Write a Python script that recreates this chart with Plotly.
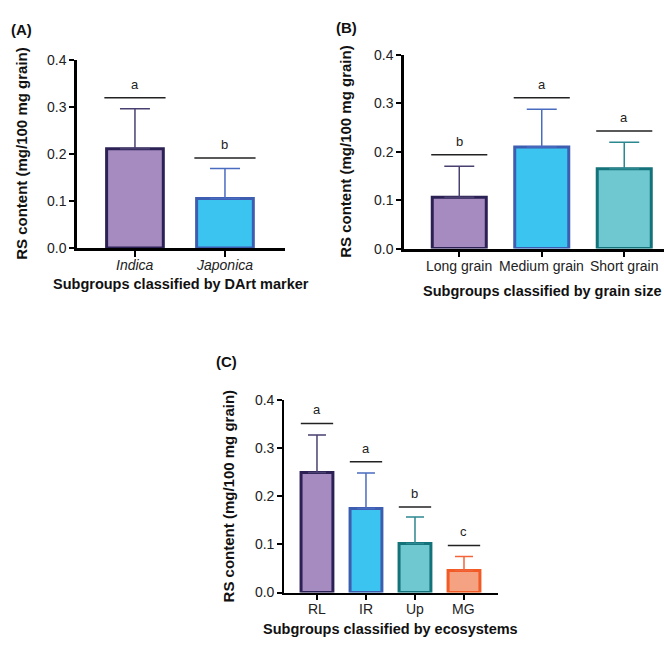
import plotly.graph_objects as go

# ---------------- data ----------------
cats_a = ["Indica", "Japonica"]
mean_a = [0.211, 0.105]
sd_a = [0.085, 0.064]
sig_a = [0.319, 0.191]
let_a = ["a", "b"]

cats_b = ["Long grain", "Medium grain", "Short grain"]
mean_b = [0.106, 0.210, 0.165]
sd_b = [0.064, 0.078, 0.055]
sig_b = [0.194, 0.312, 0.243]
let_b = ["b", "a", "a"]

cats_c = ["RL", "IR", "Up", "MG"]
mean_c = [0.250, 0.175, 0.102, 0.046]
sd_c = [0.078, 0.074, 0.055, 0.029]
sig_c = [0.352, 0.272, 0.178, 0.098]
let_c = ["a", "a", "b", "c"]

y_ticks = [0.0, 0.1, 0.2, 0.3, 0.4]

# ---------------- styles ----------------
FILL = ["#A68BC0", "#3CC4F0", "#6FC8CF", "#F5A283"]
EDGE = ["#2B2155", "#3C5DB0", "#13727A", "#F25A26"]
ERR = ["#4A4070", "#4A6CC0", "#2C8890", "#F2643A"]
FONT = "Arial, Liberation Sans, Helvetica, sans-serif"
W, H = 664, 648


def px(x):
    return x / W


def py(y):
    return 1 - y / H


fig = go.Figure()

panels = [
    dict(cats=cats_a, mean=mean_a, sd=sd_a, sig=sig_a, let=let_a, ax="", italic=True,
         xdom=[px(77), px(285)], ydom=[py(246), py(53)], xr=[-0.644, 1.667], bw=0.63,
         cols=[0, 1], lw=2.5, tlen=5, capw=15, sigh=0.34, tl_y=263,
         xtitle="Subgroups classified by DArt marker", xt=(181, 283),
         ytitle_x=22, label="(A)", lab=(21, 22)),
    dict(cats=cats_b, mean=mean_b, sd=sd_b, sig=sig_b, let=let_b, ax="2", italic=False,
         xdom=[px(404), 1.0], ydom=[py(246.7), py(48.3)], xr=[-0.670, 2.482], bw=0.655,
         cols=[0, 1, 2], lw=2.5, tlen=5, capw=15, sigh=0.34, tl_y=265,
         xtitle="Subgroups classified by grain size", xt=(542, 290),
         ytitle_x=346, label="(B)", lab=(347, 20)),
    dict(cats=cats_c, mean=mean_c, sd=sd_c, sig=sig_c, let=let_c, ax="3", italic=False,
         xdom=[px(284), px(498)], ydom=[py(599.3), py(402.3)], xr=[-0.673, 3.694], bw=0.65,
         cols=[0, 1, 2, 3], lw=1.6, tlen=5, capw=9, sigh=0.33, tl_y=616,
         xtitle="Subgroups classified by ecosystems", xt=(390, 637),
         ytitle_x=228, label="(C)", lab=(227, 362)),
]

shapes = []
annotations = []
for p in panels:
    xa = "x" + p["ax"]
    ya = "y" + p["ax"]
    for i, c in enumerate(p["cats"]):
        k = p["cols"][i]
        fig.add_trace(go.Bar(
            x=[c], y=[p["mean"][i]], xaxis=xa, yaxis=ya, width=p["bw"],
            marker=dict(color=FILL[k], line=dict(color=EDGE[k], width=3)),
            error_y=dict(type="data", array=[p["sd"][i]], arrayminus=[0], symmetric=False,
                         color=ERR[k], thickness=1.5, width=p["capw"]),
            showlegend=False, hoverinfo="y",
        ))
        shapes.append(dict(type="line", xref=xa, yref=ya,
                           x0=i - p["sigh"], x1=i + p["sigh"],
                           y0=p["sig"][i], y1=p["sig"][i],
                           line=dict(color="#222222", width=1.5)))
        annotations.append(dict(xref=xa, yref=ya, x=c, y=p["sig"][i], text=p["let"][i],
                                showarrow=False, yanchor="bottom", yshift=4,
                                font=dict(family=FONT, size=13, color="#222222")))
        # category tick label
        lbl = "<i>%s</i>" % c if p["italic"] else c
        annotations.append(dict(xref=xa, yref="paper", x=c, y=py(p["tl_y"]), text=lbl,
                                showarrow=False, xanchor="center", yanchor="middle",
                                font=dict(family=FONT, size=14, color="#222222")))
    fig.layout["xaxis" + p["ax"]] = dict(
        domain=p["xdom"], anchor=ya, type="category", categoryorder="array",
        categoryarray=p["cats"], range=p["xr"], showline=True, linecolor="black",
        linewidth=p["lw"], ticks="outside", ticklen=6, tickwidth=2, tickcolor="black",
        tickvals=p["cats"], showticklabels=False, showgrid=False, zeroline=False,
        fixedrange=True)
    fig.layout["yaxis" + p["ax"]] = dict(
        domain=p["ydom"], anchor=xa, range=[0, 0.4], showline=True, linecolor="black",
        linewidth=p["lw"], ticks="outside", ticklen=p["tlen"], tickwidth=2, tickcolor="black",
        tickvals=y_ticks, ticktext=["%.1f" % v for v in y_ticks], showgrid=False,
        zeroline=False, tickfont=dict(family=FONT, size=14, color="#222222"), fixedrange=True)
    annotations.append(dict(xref="paper", yref="paper", x=px(p["xt"][0]), y=py(p["xt"][1]),
                            text="<b>%s</b>" % p["xtitle"], showarrow=False,
                            xanchor="center", yanchor="middle",
                            font=dict(family=FONT, size=14.5, color="#111111")))
    ymid = (p["ydom"][0] + p["ydom"][1]) / 2
    annotations.append(dict(xref="paper", yref="paper", x=px(p["ytitle_x"]), y=ymid,
                            text="<b>RS content (mg/100 mg grain)</b>", showarrow=False,
                            textangle=-90, xanchor="center", yanchor="middle",
                            font=dict(family=FONT, size=15, color="#111111")))
    annotations.append(dict(xref="paper", yref="paper", x=px(p["lab"][0]), y=py(p["lab"][1]),
                            text="<b>%s</b>" % p["label"], showarrow=False,
                            xanchor="center", yanchor="middle",
                            font=dict(family=FONT, size=15, color="#111111")))

fig.update_layout(
    width=W, height=H, margin=dict(l=0, r=0, t=0, b=0),
    paper_bgcolor="white", plot_bgcolor="white", barmode="overlay",
    shapes=shapes, annotations=annotations, showlegend=False,
)

fig.write_html(
    "out.html",
    config={"displayModeBar": False},
    post_script="document.body.style.margin='0';document.body.style.overflow='hidden';",
)
